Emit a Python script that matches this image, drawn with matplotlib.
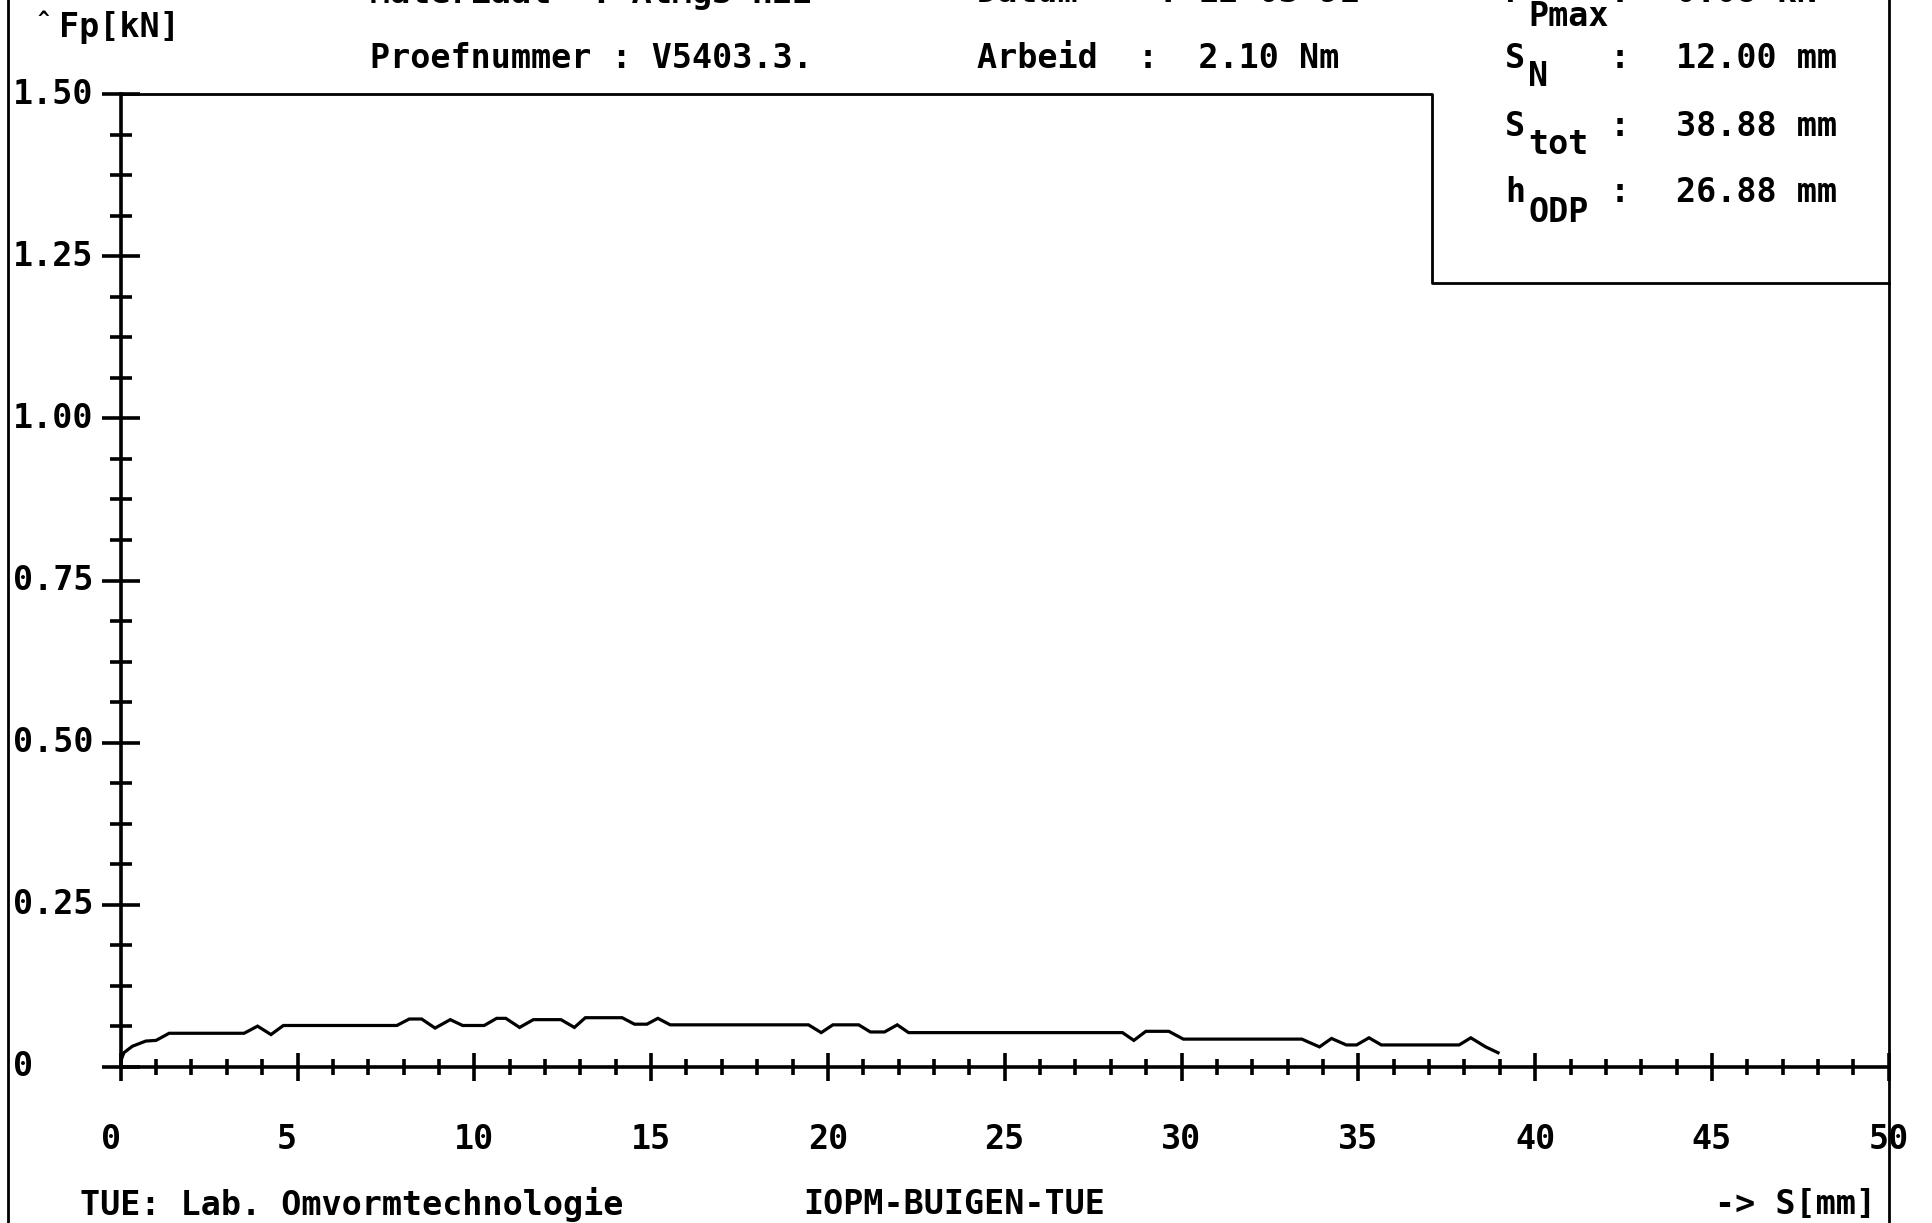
import matplotlib.pyplot as plt
from matplotlib.lines import Line2D
from matplotlib.ticker import MultipleLocator
from matplotlib.transforms import blended_transform_factory

s_mm = [0.0, 0.09, 0.33, 0.71, 1.0, 1.37, 3.49, 3.87, 4.25, 4.6, 7.81, 8.16, 8.51,
        8.89, 9.32, 9.67, 10.28, 10.63, 10.89, 11.28, 11.67, 12.45, 12.83, 13.14,
        14.18, 14.53, 14.88, 15.19, 15.54, 19.45, 19.81, 20.14, 20.87, 21.2, 21.6,
        21.96, 22.28, 28.33, 28.65, 28.99, 29.64, 30.05, 33.4, 33.9, 34.24, 34.66,
        34.95, 35.3, 35.65, 37.85, 38.18, 38.6, 38.95]
fp_kn = [0.009, 0.022, 0.032, 0.040, 0.041, 0.052, 0.052, 0.063, 0.050, 0.064, 0.064,
         0.074, 0.074, 0.060, 0.073, 0.064, 0.064, 0.075, 0.075, 0.061, 0.073, 0.073,
         0.061, 0.076, 0.076, 0.066, 0.066, 0.075, 0.065, 0.065, 0.053, 0.065, 0.065,
         0.054, 0.054, 0.065, 0.053, 0.053, 0.041, 0.055, 0.055, 0.043, 0.043, 0.031,
         0.044, 0.034, 0.034, 0.045, 0.034, 0.034, 0.045, 0.031, 0.022]

x_ticks = [0, 5, 10, 15, 20, 25, 30, 35, 40, 45, 50]
y_ticks = [0, 0.25, 0.50, 0.75, 1.00, 1.25, 1.50]
y_labels = ['0', '0.25', '0.50', '0.75', '1.00', '1.25', '1.50']

info_labels = [('F', 'Pmax'), ('S', 'N'), ('S', 'tot'), ('h', 'ODP')]
info_values = ['0.08 kN', '12.00 mm', '38.88 mm', '26.88 mm']

box_x = 37.07   # rand van het infovak rechtsboven
box_y = 1.209

font = 'DejaVu Sans Mono'
fs = 24
plt.rcParams['font.family'] = font

W, H = 1932, 1223
fig = plt.figure(figsize=(W / 100, H / 100), dpi=100)
ax = fig.add_axes([120.7 / W, (H - 1067) / H, (1888.8 - 120.7) / W, (1067 - 94) / H])

ax.plot(s_mm, fp_kn, color='black', lw=2.3, solid_joinstyle='miter')

ax.set_xlim(0, 50)
ax.set_ylim(0, 1.5)
for side in ['top', 'right']:
    ax.spines[side].set_visible(False)
for side in ['left', 'bottom']:
    ax.spines[side].set_linewidth(2.6)

ax.set_xticks(x_ticks)
ax.set_xticklabels([f'{v:<2d}' for v in x_ticks], fontsize=fs, family=font)
ax.xaxis.set_minor_locator(MultipleLocator(1))
ax.set_yticks(y_ticks)
ax.set_yticklabels([])
ax.yaxis.set_minor_locator(MultipleLocator(0.0625))

ax.tick_params(axis='x', which='major', direction='inout', length=20, width=2.6, pad=30)
ax.tick_params(axis='x', which='minor', direction='inout', length=11, width=2.6)
ax.tick_params(axis='y', which='major', direction='inout', length=27, width=2.6)
ax.tick_params(axis='y', which='minor', direction='inout', length=16, width=2.6)

ylab_tr = blended_transform_factory(fig.transFigure, ax.transData)
for v, lab in zip(y_ticks, y_labels):
    ax.text(13 / W, v, lab, transform=ylab_tr, ha='left', va='center', fontsize=fs,
            fontweight='bold')

# kader van het infovak
ax.plot([0, box_x, box_x, 50], [1.5, 1.5, box_y, box_y], color='black', lw=2.0,
        clip_on=False)

# randlijnen van het blad
fig.add_artist(Line2D([8 / W, 8 / W], [0, 1], transform=fig.transFigure,
                      color='black', lw=2.0))
right_tr = blended_transform_factory(ax.transData, fig.transFigure)
fig.add_artist(Line2D([50, 50], [0, 1], transform=right_tr, color='black', lw=2.0))

for lab in ax.get_xticklabels():
    lab.set_fontweight('bold')


def ftext(x, y, s, **kw):
    fig.text(x / W, 1 - y / H, s, ha='left', va='center',
             fontsize=kw.pop('size', fs), fontweight='bold', **kw)


ftext(37, 20, '^', size=14)
ftext(59, 27, 'Fp[kN]')

top_row = -8
ftext(370, top_row, 'Materiaal  : AlMg3-H22')
ftext(977, top_row, 'Datum    : 12-03-91')
ftext(370, 58, 'Proefnummer : V5403.3.')
ftext(977, 58, 'Arbeid  :  2.10 Nm')

rows_y = [top_row, 58, 126, 193]
for (base, sub), val, yy in zip(info_labels, info_values, rows_y):
    ftext(1505, yy, base)
    ftext(1528, yy + 19 + (5 if base == 'F' else 0), sub)
    ftext(1610, yy, ':')
    ftext(1676, yy, val)

ftext(80, 1204, 'TUE: Lab. Omvormtechnologie')
ftext(803, 1204, 'IOPM-BUIGEN-TUE')
ftext(1715, 1204, '-> S[mm]')

fig.savefig('out.png', dpi=100, facecolor='white')
